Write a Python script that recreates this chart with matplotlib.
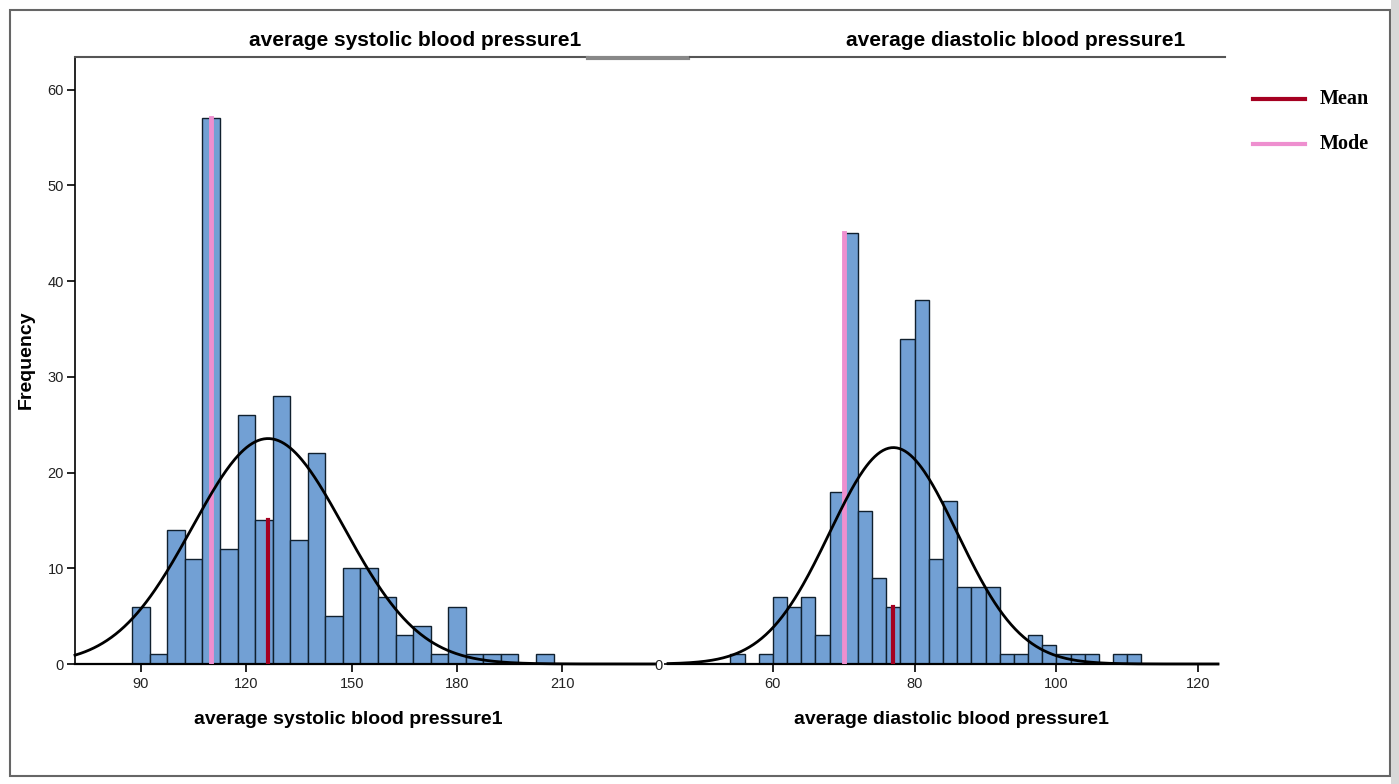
import numpy as np
import matplotlib
matplotlib.use("Agg")
import matplotlib.pyplot as plt
from matplotlib.lines import Line2D
from matplotlib.patches import Rectangle

# systolic histogram (bin width 5)
sys_edges_start = 87.5
sys_bin = 5
sys_counts = [6, 1, 14, 11, 57, 12, 26, 15, 28, 13, 22, 5, 10, 10, 7, 3, 4, 1, 6, 1, 1, 1, 0, 1]
sys_mean = 126.2
sys_sd = 21.6
sys_mode = 110
sys_ticks = [90, 120, 150, 180, 210]

# diastolic histogram (bin width 2)
dia_edges_start = 54
dia_bin = 2
dia_counts = [1, 0, 1, 7, 6, 7, 3, 18, 45, 16, 9, 6, 34, 38, 11, 17, 8, 8, 8, 1, 1, 3, 2, 1, 1, 1, 0, 1, 1]
dia_mean = 77.0
dia_sd = 9.0
dia_mode = 70
dia_ticks = [60, 80, 100, 120]

freq_ticks = [0, 10, 20, 30, 40, 50, 60]

title_sys = "average systolic blood pressure1"
title_dia = "average diastolic blood pressure1"

BAR = "#72A0D4"
MEAN_C = "#A50021"
MODE_C = "#EE8FCF"
W, H = 1399, 784

plt.rcParams['font.family'] = ['Liberation Sans', 'DejaVu Sans']
fig = plt.figure(figsize=(W / 100, H / 100), dpi=100)


def px(x0, y0, x1, y1):
    return [x0 / W, 1 - y1 / H, (x1 - x0) / W, (y1 - y0) / H]


def panel(ax, start, width, counts, mean, sd, mode, xlim):
    counts = np.array(counts)
    lefts = start + width * np.arange(len(counts))
    ax.bar(lefts, counts, width=width, align='edge', color=BAR,
           edgecolor='#10202e', linewidth=1.0, zorder=2)
    n = counts.sum()
    xs = np.linspace(xlim[0], xlim[1], 400)
    ys = n * width / (sd * np.sqrt(2 * np.pi)) * np.exp(-0.5 * ((xs - mean) / sd) ** 2)
    ax.plot(xs, ys, color='black', lw=2.0, zorder=4, clip_on=False)
    # reference lines up to the height of the bin they fall in
    i_mean = int((mean - start) // width)
    i_mode = int((mode - start) // width)
    ax.plot([mean, mean], [0, counts[i_mean]], color=MEAN_C, lw=3, zorder=3)
    ax.plot([mode, mode], [0, counts[i_mode]], color=MODE_C, lw=3.5, zorder=3)
    ax.set_xlim(*xlim)
    ax.set_ylim(0, 63.3)
    for s in ['top', 'right']:
        ax.spines[s].set_visible(False)
    ax.spines['bottom'].set_linewidth(1.6)
    ax.tick_params(axis='both', labelsize=10.5, length=6, width=1.2, labelcolor='#222222')


ax1 = fig.add_axes(px(75, 58, 655, 664))
panel(ax1, sys_edges_start, sys_bin, sys_counts, sys_mean, sys_sd, sys_mode, (71.2, 236.4))
ax1.set_xticks(sys_ticks)
ax1.set_yticks(freq_ticks)
ax1.tick_params(axis='y', pad=2)
ax1.spines['left'].set_linewidth(1.2)

ax2 = fig.add_axes(px(668, 58, 1218, 664))
panel(ax2, dia_edges_start, dia_bin, dia_counts, dia_mean, dia_sd, dia_mode, (45.2, 122.8))
ax2.set_xticks(dia_ticks)
ax2.set_yticks([0])
ax2.spines['left'].set_visible(False)
ax2.tick_params(axis='y', length=3, pad=1)

# axis titles
fig.text(348 / W, 1 - 719 / H, title_sys, ha='center', va='center', fontsize=14, fontweight='bold')
fig.text(951 / W, 1 - 719 / H, title_dia, ha='center', va='center', fontsize=14, fontweight='bold')
fig.text(26 / W, 1 - 360 / H, "Frequency", rotation=90, ha='center', va='center',
         fontsize=14, fontweight='bold')

# panel headers
fig.text(415 / W, 1 - 40 / H, title_sys, ha='center', va='center', fontsize=15, fontweight='bold')
fig.text(1016 / W, 1 - 40 / H, title_dia, ha='center', va='center', fontsize=15, fontweight='bold')
fig.add_artist(Line2D([75 / W, 588 / W], [1 - 57 / H] * 2, color='#555555', lw=1.5))
fig.add_artist(Line2D([588 / W, 688 / W], [1 - 58 / H] * 2, color='#888888', lw=3))
fig.add_artist(Line2D([690 / W, 1225 / W], [1 - 57 / H] * 2, color='#555555', lw=1.5))

# legend
for y, c, lab in [(99, MEAN_C, "Mean"), (144, MODE_C, "Mode")]:
    fig.add_artist(Line2D([1253 / W, 1305 / W], [1 - y / H] * 2, color=c, lw=3))
    fig.text(1320 / W, 1 - y / H, lab, ha='left', va='center', fontsize=14.5,
             fontweight='bold', family=['Liberation Serif', 'DejaVu Serif'])

# outer frame
fig.add_artist(Rectangle((10 / W, 1 - 776 / H), 1380 / W, 766 / H, transform=fig.transFigure,
                         fill=False, edgecolor='#666666', lw=1.5))
fig.add_artist(Rectangle((1391 / W, 0), 8 / W, 1, transform=fig.transFigure,
                         facecolor='#d8d8d8', edgecolor='none'))

fig.savefig("out.png", dpi=100)
